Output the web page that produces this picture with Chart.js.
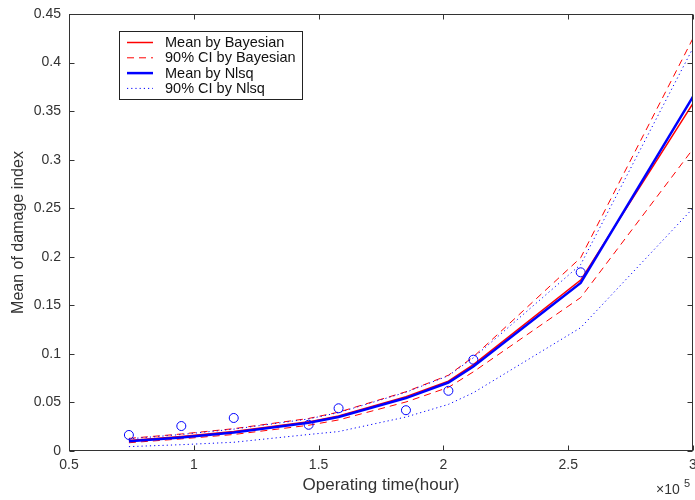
<!DOCTYPE html>
<html><head><meta charset="utf-8">
<script src="https://cdn.jsdelivr.net/npm/chart.js@4/dist/chart.umd.min.js"></script>
<style>html,body{margin:0;padding:0;background:#fff}</style>
</head><body>
<canvas id="c" width="695" height="500"></canvas>
<script>
// x values in units of 10^5 hours
const obsTime = [0.74, 0.95, 1.16, 1.46, 1.58, 1.85, 2.02, 2.12, 2.55];
const obsDamage = [0.0165, 0.0257, 0.034, 0.027, 0.044, 0.042, 0.062, 0.094, 0.184];

const fitTime = [0.74, 0.95, 1.16, 1.46, 1.58, 1.85, 2.02, 2.12, 2.55, 3.0];
const meanBayes = [0.0108, 0.0150, 0.0200, 0.0300, 0.0360, 0.0560, 0.0720, 0.0890, 0.176, 0.358];
const upperBayes = [0.0130, 0.0175, 0.0230, 0.0335, 0.0400, 0.0610, 0.0780, 0.0970, 0.199, 0.425];
const lowerBayes = [0.0085, 0.0125, 0.0170, 0.0265, 0.0320, 0.0505, 0.0655, 0.0815, 0.158, 0.311];
const meanNlsq = [0.0100, 0.0140, 0.0190, 0.0290, 0.0350, 0.0545, 0.0705, 0.0870, 0.173, 0.365];
const upperNlsq = [0.0125, 0.0170, 0.0225, 0.0330, 0.0395, 0.0605, 0.0775, 0.0960, 0.192, 0.415];
const lowerNlsq = [0.0045, 0.0065, 0.0090, 0.0170, 0.0200, 0.0350, 0.0480, 0.0600, 0.127, 0.250];

const xTicks = [0.5, 1, 1.5, 2, 2.5, 3];
const yTicks = [0, 0.05, 0.1, 0.15, 0.2, 0.25, 0.3, 0.35, 0.4, 0.45];

const legendLabels = ['Mean by Bayesian', '90% CI by Bayesian', 'Mean by Nlsq', '90% CI by Nlsq'];

const pts = (xs, ys) => xs.map((x, i) => ({x: x, y: ys[i]}));
const FONT = '"Liberation Sans", Arial, sans-serif';
const AXIS_COLOR = '#333333';

const RED = '#ff0000', BLUE = '#0000ff';
const lineBase = {showLine: true, pointRadius: 0, tension: 0, fill: false};

const datasets = [
  Object.assign({label: legendLabels[0], data: pts(fitTime, meanBayes), borderColor: RED, borderWidth: 1.5, order: 5}, lineBase),
  Object.assign({label: legendLabels[1], data: pts(fitTime, upperBayes), borderColor: RED, borderWidth: 1, borderDash: [7, 5], order: 4}, lineBase),
  Object.assign({label: '_b_low', data: pts(fitTime, lowerBayes), borderColor: RED, borderWidth: 1, borderDash: [7, 5], order: 4}, lineBase),
  Object.assign({label: legendLabels[2], data: pts(fitTime, meanNlsq), borderColor: BLUE, borderWidth: 2.5, order: 2}, lineBase),
  Object.assign({label: legendLabels[3], data: pts(fitTime, upperNlsq), borderColor: BLUE, borderWidth: 1, borderDash: [1.2, 3], order: 3}, lineBase),
  Object.assign({label: '_n_low', data: pts(fitTime, lowerNlsq), borderColor: BLUE, borderWidth: 1, borderDash: [1.2, 3], order: 3}, lineBase),
  {label: '_obs', data: pts(obsTime, obsDamage), showLine: false, pointRadius: 4.5, pointStyle: 'circle',
   pointBorderColor: BLUE, pointBackgroundColor: 'rgba(0,0,0,0)', pointBorderWidth: 1, borderColor: BLUE, order: 1}
];

const noPad = () => ({left: 0, top: 0, right: 0, bottom: 0});

const boxPlugin = {
  id: 'boxPlugin',
  afterDatasetsDraw(chart) {
    const ctx = chart.ctx, a = chart.chartArea;
    const xs = chart.scales.x, ys = chart.scales.y;
    ctx.save();
    ctx.strokeStyle = AXIS_COLOR;
    ctx.lineWidth = 1;
    const L = Math.round(a.left) + 0.5, R = Math.round(a.right) - 0.5;
    const T = Math.round(a.top) + 0.5, B = Math.round(a.bottom) - 0.5;
    ctx.strokeRect(L, T, R - L, B - T);
    const tl = 5;
    ctx.beginPath();
    xTicks.forEach(v => {
      const px = Math.round(xs.getPixelForValue(v)) + 0.5;
      ctx.moveTo(px, B); ctx.lineTo(px, B - tl);
      ctx.moveTo(px, T); ctx.lineTo(px, T + tl);
    });
    yTicks.forEach(v => {
      const py = Math.round(ys.getPixelForValue(v)) + 0.5;
      ctx.moveTo(L, py); ctx.lineTo(L + tl, py);
      ctx.moveTo(R, py); ctx.lineTo(R - tl, py);
    });
    ctx.stroke();

    // legend
    const lx = 119.5, ly = 31.5, lw = 183, lh = 68;
    ctx.fillStyle = '#ffffff';
    ctx.fillRect(lx, ly, lw, lh);
    ctx.strokeStyle = '#222222';
    ctx.strokeRect(lx, ly, lw, lh);
    const rows = [0, 1, 3, 4];
    ctx.font = '14.5px ' + FONT;
    ctx.textBaseline = 'middle';
    rows.forEach((di, i) => {
      const ds = chart.data.datasets[di];
      const y = 42.5 + i * 15.3;
      ctx.strokeStyle = ds.borderColor;
      ctx.lineWidth = ds.borderWidth;
      ctx.setLineDash(ds.borderDash || []);
      ctx.beginPath();
      ctx.moveTo(127, y); ctx.lineTo(153, y);
      ctx.stroke();
      ctx.setLineDash([]);
      ctx.fillStyle = '#111111';
      ctx.fillText(ds.label, 165, y + 0.5);
    });

    // x10^5 multiplier
    ctx.fillStyle = AXIS_COLOR;
    ctx.textBaseline = 'alphabetic';
    ctx.font = '14px ' + FONT;
    ctx.fillText('\u00d710', 656, 494);
    ctx.font = '11px ' + FONT;
    ctx.fillText('5', 684, 487);
    ctx.restore();
  }
};

new Chart(document.getElementById('c'), {
  type: 'scatter',
  data: {datasets: datasets},
  options: {
    responsive: false,
    devicePixelRatio: 1,
    animation: false,
    layout: {autoPadding: false, padding: {left: 0, right: 2, top: 14, bottom: 0}},
    plugins: {legend: {display: false}, tooltip: {enabled: false}},
    scales: {
      x: {
        type: 'linear', min: 0.5, max: 3,
        afterFit: s => { s.height = 49; s.paddingLeft = 0; s.paddingRight = 0; s.getPadding = noPad; },
        afterBuildTicks: s => { s.ticks = xTicks.map(v => ({value: v})); },
        grid: {display: false, drawTicks: false},
        border: {display: false},
        ticks: {color: AXIS_COLOR, font: {family: FONT, size: 14}, padding: 6, maxRotation: 0,
                callback: v => String(v)},
        title: {display: true, text: 'Operating time(hour)', color: AXIS_COLOR,
                font: {family: FONT, size: 17}, padding: {top: 0, bottom: 4}}
      },
      y: {
        type: 'linear', min: 0, max: 0.45,
        afterFit: s => { s.width = 69; s.paddingTop = 0; s.paddingBottom = 0; s.getPadding = noPad; },
        afterBuildTicks: s => { s.ticks = yTicks.map(v => ({value: v})); },
        grid: {display: false, drawTicks: false},
        border: {display: false},
        ticks: {color: AXIS_COLOR, font: {family: FONT, size: 14}, padding: 8,
                callback: v => String(Math.round(v * 100) / 100)},
        title: {display: true, text: 'Mean of damage index', color: AXIS_COLOR,
                font: {family: FONT, size: 16}, padding: {top: 9, bottom: 0}}
      }
    }
  },
  plugins: [boxPlugin]
});
</script>
</body></html>
